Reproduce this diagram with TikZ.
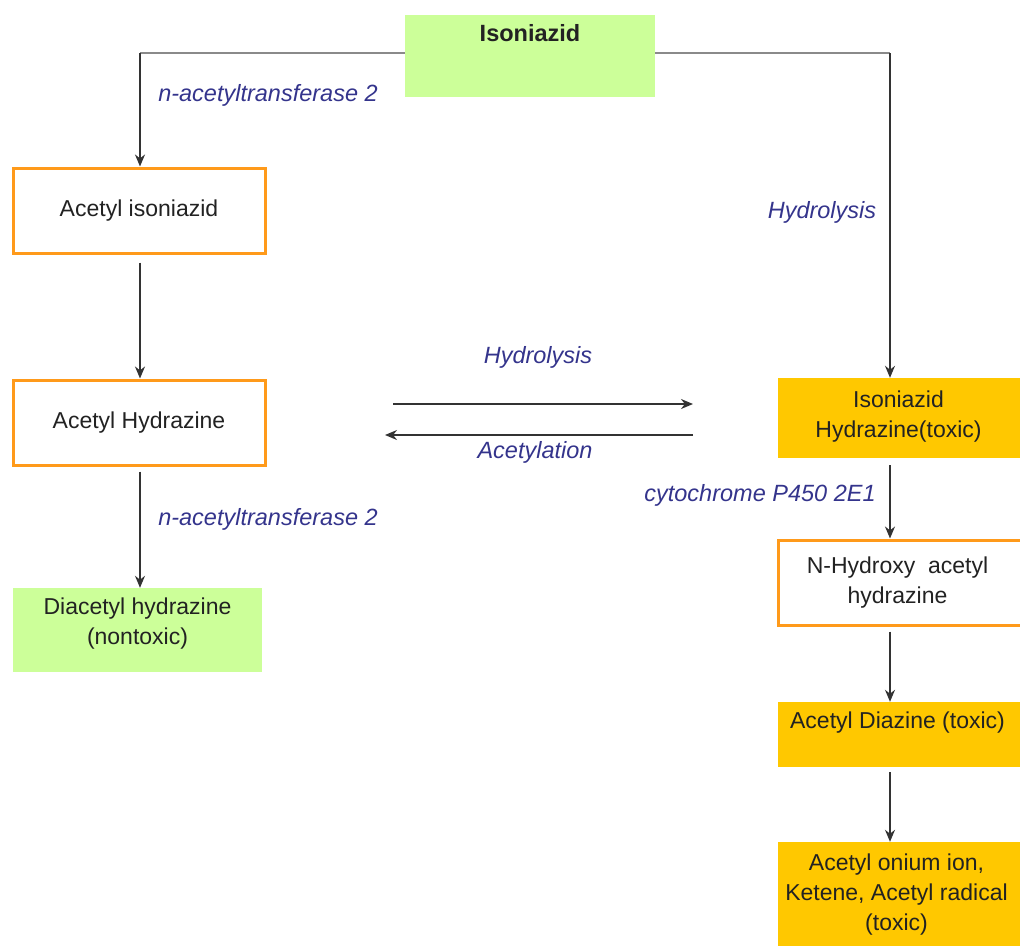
\documentclass[tikz,border=0pt]{standalone}
\usepackage{fontspec}
\setmainfont{Liberation Sans}
\usetikzlibrary{arrows.meta}
\definecolor{boxgreen}{HTML}{CCFF99}
\definecolor{boxorange}{HTML}{FFC800}
\definecolor{edgeorange}{HTML}{FF9A1A}
\definecolor{lblue}{HTML}{34348C}
\definecolor{txt}{HTML}{222222}
\definecolor{gline}{HTML}{8A8A8A}
\newcommand{\liftup}[2]{\raisebox{#1}[\height][\depth]{#2}}
\tikzset{
  base/.style={minimum width=252pt, minimum height=85pt, align=center, inner sep=0pt,
    font=\fontsize{23}{31}\selectfont, text=txt},
  whitebox/.style={base, draw=edgeorange, line width=3pt, fill=white},
  greenbox/.style={base, fill=boxgreen},
  orangebox/.style={base, fill=boxorange},
  lab/.style={font=\fontsize{23.5}{28}\selectfont\itshape, text=lblue, inner sep=0pt},
  conn/.style={draw=black!80, line width=1.5pt, -{Stealth[length=12pt,width=10pt]}},
  topline/.style={draw=gline, line width=2.4pt},
}
\begin{document}
\begin{tikzpicture}[x=1pt,y=-1pt]
\useasboundingbox (0,0) rectangle (1020,946);
% nodes
\node[greenbox, minimum width=250pt, minimum height=82pt,
  label={[anchor=north, yshift=-6pt, font=\fontsize{23.5}{28}\selectfont\bfseries, text=txt]north:Isoniazid}] (iso) at (530,56) {};
\node[whitebox] (acis) at (139,210.5) {\liftup{0pt}{Acetyl isoniazid}};
\node[whitebox] (achy) at (139,422.5) {Acetyl Hydrazine};
\node[greenbox, minimum width=249pt, minimum height=84pt] (diac) at (137.5,630) {\liftup{6.5pt}{\begin{tabular}{@{}c@{}}Diacetyl hydrazine\\[-1pt](nontoxic)\end{tabular}}};
\node[orangebox, minimum width=247pt, minimum height=80pt] (isohy) at (901.5,418) {\liftup{2pt}{\hspace*{-6pt}\begin{tabular}{@{}c@{}}Isoniazid\\[-1pt]Hydrazine(toxic)\end{tabular}}};
\node[whitebox, minimum width=247pt, minimum height=85pt] (nhy) at (901.5,582.5) {\hspace*{-8pt}\begin{tabular}{@{}c@{}}N-Hydroxy\ \ acetyl\\[-1pt]hydrazine\end{tabular}};
\node[orangebox, minimum width=247pt, minimum height=65pt] (acdi) at (901.5,734.5) {\liftup{12pt}{\hspace*{-8pt}Acetyl Diazine (toxic)}};
\node[orangebox, minimum width=247pt, minimum height=104pt] (onium) at (901.5,894) {\hspace*{-10pt}\begin{tabular}{@{}c@{}}Acetyl onium ion,\\[-1pt]Ketene, Acetyl radical\\[-1pt](toxic)\end{tabular}};
% labels
\node[lab] (l1) at (268,95) {n-acetyltransferase 2};
\node[lab] (l2) at (822,212) {Hydrolysis};
\node[lab] (l3) at (538,357) {Hydrolysis};
\node[lab] (l4) at (535,452) {Acetylation};
\node[lab] (l5) at (268,519) {n-acetyltransferase 2};
\node[lab] (l6) at (760,495) {cytochrome P450 2E1};
% free ends of the two middle arrows
\coordinate (h1) at (393,404);
\coordinate (h2) at (693,404);
\coordinate (a1) at (693,435);
\coordinate (a2) at (385,435);
% connectors
\draw[topline] ([yshift=3pt]iso.west) -- (140,53);
\draw[conn] (140,53) -- ([xshift=1pt]acis.north);
\draw[topline] ([yshift=3pt]iso.east) -- (890,53);
\draw[conn] (890,53) -- ([xshift=-11.5pt]isohy.north);
\draw[conn, shorten <=8pt] ([xshift=1pt]acis.south) -- ([xshift=1pt]achy.north);
\draw[conn, shorten <=5pt] ([xshift=1pt]achy.south) -- ([xshift=2.5pt]diac.north);
\draw[conn] (h1) -- (h2);
\draw[conn] (a1) -- (a2);
\draw[conn, shorten <=7pt] ([xshift=-11.5pt]isohy.south) -- ([xshift=-11.5pt]nhy.north);
\draw[conn, shorten <=5pt] ([xshift=-11.5pt]nhy.south) -- ([xshift=-11.5pt]acdi.north);
\draw[conn, shorten <=5pt] ([xshift=-11.5pt]acdi.south) -- ([xshift=-11.5pt]onium.north);
\end{tikzpicture}
\end{document}
